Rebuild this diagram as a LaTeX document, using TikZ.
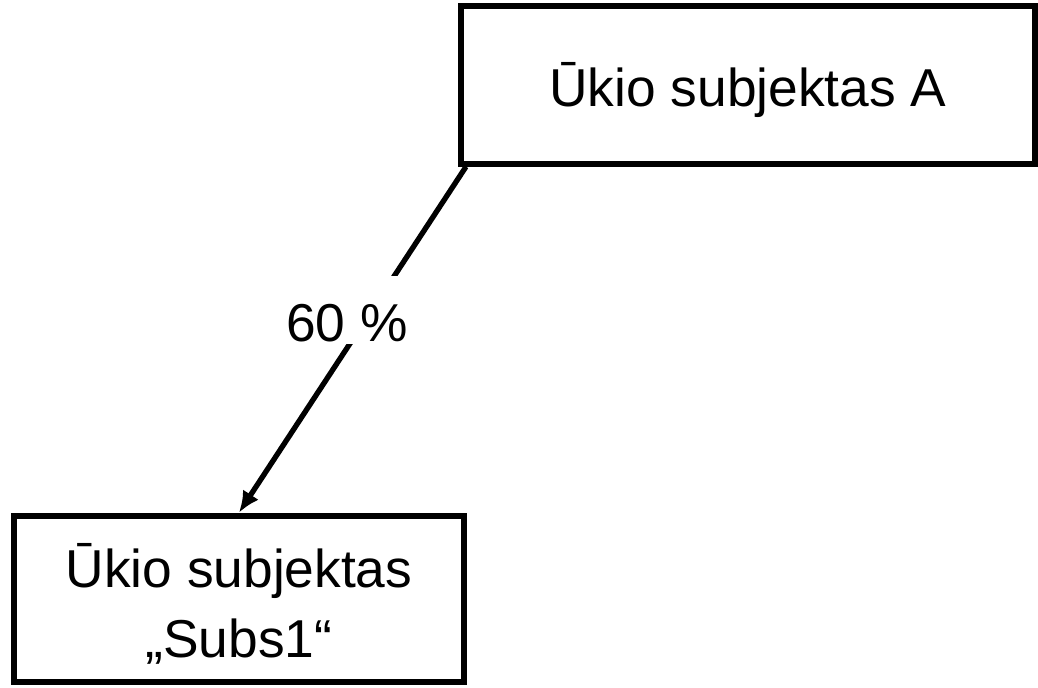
\documentclass[tikz,border=0pt]{standalone}
\usepackage{fontspec}
\setmainfont{Liberation Sans}
\usetikzlibrary{arrows.meta}
\begin{document}
\begin{tikzpicture}[x=0.75pt,y=-0.75pt,
  boxfont/.style={font=\fontsize{40pt}{52.5pt}\selectfont},
  entity/.style={draw=black, line width=4.5pt, fill=white, align=center,
    boxfont, inner sep=0pt},
  link/.style={line width=4pt, -{Latex[length=16pt,width=14pt]}},
  pct/.style={fill=white, inner sep=0pt, inner xsep=3pt, text height=48.75pt,
    text depth=2.25pt, font=\fontsize{40pt}{48pt}\selectfont}]
\useasboundingbox (0,0) rectangle (1038,687);
\node[entity, minimum width=430.5pt, minimum height=118pt, text height=40pt, text depth=8pt] (A) at (748,85) {Ūkio subjektas A};
\node[entity, minimum width=338pt, minimum height=125pt,
  label={[align=center, boxfont, inner sep=0pt, yshift=-3.4pt]center:{Ūkio subjektas\\„Subs1“}}] (B) at (239,599) {};
\draw[link] ([xshift=6pt]A.south west) -- (B.north);
\node[pct, anchor=base] (p) at (347,341) {60 \%};
\end{tikzpicture}
\end{document}
